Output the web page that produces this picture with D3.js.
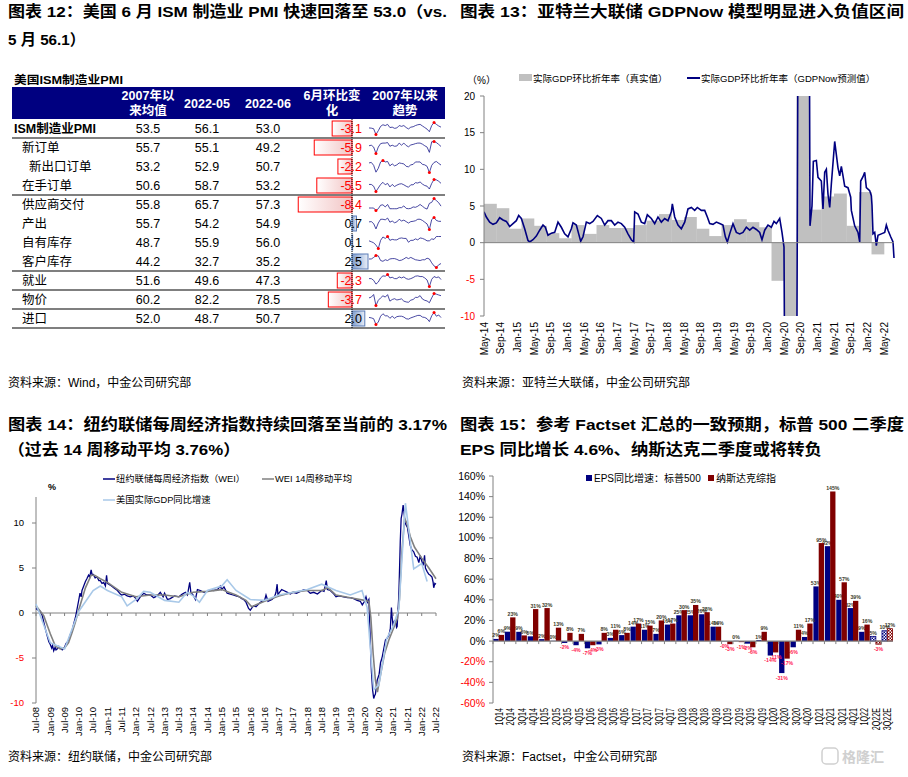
<!DOCTYPE html>
<html><head><meta charset="utf-8">
<script src="https://cdn.jsdelivr.net/npm/d3@7/dist/d3.min.js"></script>
<style>
body{margin:0;background:#fff;}
</style></head><body>
<script>
// ================= DATA =================
// --- Panel 12: ISM table ---
const tableRows = ["ISM制造业PMI","新订单","新出口订单","在手订单","供应商交付","产出","自有库存","客户库存","就业","物价","进口"];
const avg2007 = [53.5,55.7,53.2,50.6,55.8,55.7,48.7,44.2,51.6,60.2,52.0];
const may22 = [56.1,55.1,52.9,58.7,65.7,54.2,55.9,32.7,49.6,82.2,48.7];
const jun22 = [53.0,49.2,50.7,53.2,57.3,54.9,56.0,35.2,47.3,78.5,50.7];
const momChange = [-3.1,-5.9,-2.2,-5.5,-8.4,0.7,0.1,2.5,-2.3,-3.7,2.0];
const tableHeaders = [["2007年以","来均值"],["2022-05"],["2022-06"],["6月环比变","化"],["2007年以来","趋势"]];
// trend sparklines (semi-annual readings 2007H1 .. 2022H1)
const trendPMI = [51,50.5,49,34.5,44,55,59,57,60,52,53,50,51,57,55,57,52,48.5,53,54,57,59,60,56,52,48,41.5,57,64.7,60,56,53];
const trendNewOrders = [52,54,47,22.7,47,60,62,62,64,50,54,50,51,62,54,62,53,48,55,57,60,62,62,58,52,47,27,67,68,64,57,49.2];
const trendExport = [55,56,50,36,44,57,60,57,58,49,53,49,51,55,54,53,48,47,51,52,57,57,57,52,51,48,35.3,50,56,58,54,50.7];
const trendBacklog = [50,50,45,30,40,50,56,49,53,43,50,44,48,51,52,49,45,42,49,49,55,54,57,51,47,45,37,53,64,63,59,53.2];
const trendSupplier = [52,52,52,45,50,60,61,55,62,50,50,50,50,53,53,58,51,50,51,55,54,57,62,57,52,49,65,68,78.8,73,67,57.3];
const trendProduction = [53,54,47,29,49,62,62,60,66,52,56,50,53,62,56,59,54,49,54,55,57,62,62,58,52,46,27,61,68,58,55,54.9];
const trendInventory = [47,45,43,38,31,48,55,52,56,48,50,49,49,52,53,52,52,44,48,48,51,49,53,52,50,47,47,51,50,56,56,56.0];
const trendCustInv = [47,47,51,56,55,43,41,45,43,47,48,48,46,43,44,47,51,48,51,48,45,44,43,45,45,49,47,37,29,25,32,35.2];
const trendEmployment = [50,50,45,34,40,52,58,57,62,52,54,50,50,55,52,55,50,48,50,53,57,58,56,56,52,46,27,48,56,53,55,47.3];
const trendPrices = [65,70,86,18,50,65,78,70,85,45,55,60,52,55,59,45,40,38,51,55,68,68,79,58,50,46,35,65,92.1,88,83,78.5];
const trendImports = [51,50,48,34,40,54,60,55,55,49,54,49,53,54,54,52,48,47,50,52,54,56,56,52,51,48,41,55,63,54,57,50.7];
const trendSeries = [trendPMI,trendNewOrders,trendExport,trendBacklog,trendSupplier,trendProduction,trendInventory,trendCustInv,trendEmployment,trendPrices,trendImports];

// --- Panel 13: GDPNow ---
const gdpQuarters = ["2014Q2","2014Q3","2014Q4","2015Q1","2015Q2","2015Q3","2015Q4","2016Q1","2016Q2","2016Q3","2016Q4","2017Q1","2017Q2","2017Q3","2017Q4","2018Q1","2018Q2","2018Q3","2018Q4","2019Q1","2019Q2","2019Q3","2019Q4","2020Q1","2020Q2","2020Q3","2020Q4","2021Q1","2021Q2","2021Q3","2021Q4","2022Q1"];
const gdpActual = [5.3,4.7,1.9,3.3,2.3,1.3,0.6,2.4,1.2,2.4,2.0,2.0,2.4,3.0,3.9,3.1,3.5,1.9,0.9,2.4,3.2,2.8,2.1,-5.2,-31.2,33.8,4.5,6.3,6.7,2.3,6.9,-1.6];
const gdpNow = [[2014.333,4.2],[2014.38,3.5],[2014.447,2.8],[2014.513,2.5],[2014.58,2.7],[2014.647,3.4],[2014.713,3.1],[2014.78,2.9],[2014.847,2.2],[2014.913,2.6],[2014.98,3.0],[2015.027,3.7],[2015.08,3.3],[2015.147,1.9],[2015.213,0.3],[2015.247,0.1],[2015.313,0.4],[2015.38,0.9],[2015.447,1.7],[2015.513,2.4],[2015.56,2.1],[2015.613,1.0],[2015.68,1.3],[2015.747,1.4],[2015.813,2.8],[2015.88,2.1],[2015.947,1.2],[2016.013,0.8],[2016.08,1.9],[2016.113,2.7],[2016.18,2.4],[2016.227,1.2],[2016.267,0.2],[2016.313,0.8],[2016.38,2.8],[2016.447,2.6],[2016.513,2.9],[2016.6,3.7],[2016.68,3.3],[2016.747,2.4],[2016.813,3.0],[2016.88,3.0],[2016.947,2.4],[2017.013,2.8],[2017.08,2.6],[2017.147,2.1],[2017.213,1.2],[2017.28,0.4],[2017.327,0.1],[2017.347,4.2],[2017.413,3.9],[2017.48,2.8],[2017.547,2.6],[2017.6,3.8],[2017.68,3.3],[2017.747,2.6],[2017.813,3.5],[2017.88,2.8],[2017.947,3.3],[2018.013,3.0],[2018.08,4.2],[2018.1,5.3],[2018.147,3.5],[2018.213,2.4],[2018.28,1.9],[2018.347,2.8],[2018.413,4.6],[2018.48,4.8],[2018.547,4.4],[2018.6,4.8],[2018.68,4.4],[2018.747,4.4],[2018.8,3.5],[2018.847,2.6],[2018.913,2.5],[2018.98,2.8],[2019.047,2.6],[2019.113,2.4],[2019.16,0.8],[2019.2,0.1],[2019.247,1.2],[2019.313,2.6],[2019.38,1.4],[2019.447,1.2],[2019.513,1.4],[2019.58,2.1],[2019.647,1.7],[2019.713,2.1],[2019.78,1.8],[2019.847,1.4],[2019.893,0.4],[2019.947,1.7],[2020.013,2.4],[2020.08,2.1],[2020.133,2.9],[2020.18,2.6],[2020.247,3.3],[2020.293,1.4],[2020.333,-0.6],[2020.36,-35],[2020.5,-38],[2020.59,-15],[2020.613,30],[2020.84,30],[2020.853,2.3],[2020.893,5],[2020.92,11.1],[2020.98,11.2],[2021.013,8.9],[2021.08,8.4],[2021.113,4.6],[2021.147,9.6],[2021.18,10.0],[2021.213,6.6],[2021.247,4.8],[2021.28,8.0],[2021.347,13.8],[2021.413,10.2],[2021.447,9.1],[2021.48,10.4],[2021.513,9.1],[2021.547,7.7],[2021.613,7.5],[2021.667,6.2],[2021.68,4.4],[2021.747,2.3],[2021.813,1.4],[2021.847,0.1],[2021.867,8.4],[2021.913,9.0],[2021.947,9.6],[2021.98,7.5],[2022.047,7.1],[2022.08,6.4],[2022.093,5.1],[2022.113,1.2],[2022.147,1.4],[2022.18,-0.4],[2022.213,1.0],[2022.28,1.2],[2022.347,1.4],[2022.38,2.4],[2022.413,1.7],[2022.467,0.8],[2022.513,0.1],[2022.533,-2.1]];
const gdpYTicks = [-10,-5,0,5,10,15,20];

// --- Panel 14: WEI ---
const weiSeries = [[2008.50,0.5],[2008.58,0.3],[2008.65,0.2],[2008.72,-0.3],[2008.77,-1.0],[2008.83,-1.8],[2008.89,-2.5],[2008.95,-3.2],[2009.00,-3.5],[2009.05,-3.9],[2009.08,-3.6],[2009.12,-4.2],[2009.17,-3.8],[2009.20,-4.1],[2009.24,-4.0],[2009.30,-3.7],[2009.35,-3.9],[2009.42,-4.1],[2009.50,-3.8],[2009.55,-3.4],[2009.60,-3.2],[2009.64,-3.0],[2009.70,-2.4],[2009.76,-2.0],[2009.82,-1.2],[2009.88,-0.5],[2009.94,0.5],[2010.00,1.5],[2010.04,2.2],[2010.08,1.8],[2010.11,2.5],[2010.17,3.0],[2010.23,3.5],[2010.28,3.8],[2010.34,4.2],[2010.38,4.0],[2010.43,4.8],[2010.46,4.3],[2010.50,4.3],[2010.57,3.9],[2010.64,4.0],[2010.70,3.6],[2010.75,3.6],[2010.81,3.3],[2010.87,3.4],[2010.93,3.0],[2010.97,4.2],[2011.00,3.3],[2011.10,3.1],[2011.22,2.8],[2011.35,2.5],[2011.45,2.1],[2011.50,2.0],[2011.60,2.1],[2011.69,1.9],[2011.80,1.8],[2011.90,1.9],[2012.00,1.6],[2012.05,1.3],[2012.15,1.8],[2012.27,2.2],[2012.38,2.0],[2012.50,2.0],[2012.62,1.7],[2012.74,1.9],[2012.85,2.3],[2012.95,1.8],[2013.00,2.2],[2013.10,1.5],[2013.20,1.6],[2013.35,1.9],[2013.50,1.8],[2013.62,2.1],[2013.73,2.3],[2013.80,2.0],[2013.88,3.4],[2013.92,2.3],[2014.00,2.0],[2014.08,1.5],[2014.15,2.6],[2014.25,2.5],[2014.38,2.3],[2014.50,2.4],[2014.60,2.6],[2014.72,2.5],[2014.85,2.6],[2014.95,3.0],[2015.00,2.6],[2015.08,2.9],[2015.19,2.2],[2015.30,2.1],[2015.40,2.0],[2015.50,1.9],[2015.62,1.8],[2015.70,1.6],[2015.77,1.5],[2015.85,1.2],[2015.94,0.5],[2016.00,0.3],[2016.06,0.6],[2016.12,0.8],[2016.20,0.7],[2016.29,1.0],[2016.40,1.3],[2016.50,1.4],[2016.55,2.0],[2016.62,1.3],[2016.76,1.5],[2016.85,1.8],[2016.90,2.3],[2016.94,3.2],[2016.97,1.9],[2017.00,2.2],[2017.10,2.6],[2017.17,2.5],[2017.30,2.3],[2017.40,2.1],[2017.50,2.3],[2017.62,2.2],[2017.75,2.4],[2017.88,2.6],[2018.00,2.5],[2018.10,2.2],[2018.22,2.3],[2018.35,2.1],[2018.50,2.5],[2018.58,2.4],[2018.66,3.6],[2018.70,2.6],[2018.80,2.5],[2018.90,2.2],[2019.00,1.8],[2019.10,1.9],[2019.27,1.8],[2019.40,1.7],[2019.50,1.7],[2019.62,1.6],[2019.74,1.4],[2019.85,1.3],[2019.92,0.9],[2020.00,1.3],[2020.05,1.8],[2020.10,1.2],[2020.15,1.5],[2020.20,-3.0],[2020.24,-6.5],[2020.28,-8.5],[2020.32,-9.5],[2020.35,-9.2],[2020.38,-9.0],[2020.44,-7.5],[2020.51,-6.8],[2020.56,-5.5],[2020.61,-5.0],[2020.67,-4.0],[2020.73,-3.0],[2020.79,-2.8],[2020.85,-2.5],[2020.90,-1.8],[2020.94,0.6],[2020.96,-0.3],[2021.00,-1.5],[2021.04,-0.9],[2021.08,-0.8],[2021.12,-1.6],[2021.14,-1.5],[2021.17,0.3],[2021.20,2.0],[2021.25,8.0],[2021.28,10.5],[2021.31,11.0],[2021.35,12.0],[2021.37,11.5],[2021.42,10.0],[2021.50,9.5],[2021.55,8.5],[2021.60,7.5],[2021.66,7.0],[2021.72,6.8],[2021.78,6.3],[2021.84,6.2],[2021.90,5.6],[2021.95,6.4],[2022.00,5.8],[2022.05,5.3],[2022.10,6.4],[2022.13,5.0],[2022.19,4.6],[2022.25,4.3],[2022.30,4.2],[2022.36,4.0],[2022.40,3.4],[2022.42,2.8],[2022.46,3.3],[2022.50,3.2]];
const weiMA14 = [[2008.50,0.8],[2008.77,-0.3],[2009.00,-2.3],[2009.18,-3.7],[2009.35,-4.0],[2009.50,-3.9],[2009.64,-3.3],[2009.76,-2.2],[2009.88,-1.0],[2010.00,0.4],[2010.23,2.8],[2010.43,4.2],[2010.55,4.2],[2010.75,3.8],[2011.00,3.4],[2011.50,2.3],[2012.00,1.8],[2012.50,2.0],[2013.00,2.0],[2013.50,1.8],[2014.00,2.3],[2014.50,2.4],[2015.00,2.6],[2015.50,2.0],[2015.85,1.4],[2016.05,0.7],[2016.50,1.3],[2017.00,1.9],[2017.50,2.3],[2018.00,2.5],[2018.50,2.5],[2018.72,2.8],[2019.00,2.0],[2019.50,1.7],[2020.00,1.4],[2020.15,1.3],[2020.22,-0.5],[2020.30,-4.5],[2020.38,-7.5],[2020.45,-8.8],[2020.55,-7.0],[2020.70,-4.5],[2020.85,-3.0],[2021.00,-1.8],[2021.15,-0.6],[2021.22,1.5],[2021.30,6.5],[2021.40,10.5],[2021.48,10.0],[2021.60,8.5],[2021.75,7.3],[2022.00,6.1],[2022.25,5.0],[2022.50,3.8]];
const gdpYoY = [[2008.50,1.0],[2009.00,-3.3],[2009.50,-4.0],[2010.00,0.2],[2010.50,2.5],[2010.75,3.0],[2011.00,2.5],[2011.50,1.8],[2011.69,0.8],[2012.00,1.5],[2012.27,2.4],[2012.50,2.3],[2013.00,1.4],[2013.50,1.2],[2013.79,2.3],[2014.00,1.9],[2014.22,1.2],[2014.50,2.5],[2015.00,3.0],[2015.19,3.7],[2015.50,2.5],[2016.00,1.5],[2016.50,1.4],[2017.00,2.0],[2017.50,2.3],[2018.00,2.6],[2018.50,3.2],[2019.00,2.5],[2019.50,2.0],[2019.91,2.5],[2020.09,0.6],[2020.32,-8.5],[2020.50,-8.0],[2020.78,-2.8],[2021.00,-1.5],[2021.20,0.5],[2021.43,12.2],[2021.72,4.9],[2022.00,5.5],[2022.19,3.5]];
const weiYTicks = [-10,-5,0,5,10];

// --- Panel 15: Factset EPS ---
const epsQuarters = ["1Q14","2Q14","3Q14","4Q14","1Q15","2Q15","3Q15","4Q15","1Q16","2Q16","3Q16","4Q16","1Q17","2Q17","3Q17","4Q17","1Q18","2Q18","3Q18","4Q18","1Q19","2Q19","3Q19","4Q19","1Q20","2Q20","3Q20","4Q20","1Q21","2Q21","3Q21","4Q21","1Q22","2Q22E","3Q22E"];
const epsSP500 = [2.1,9.1,9.0,4.6,1.9,0.3,-1.8,-4.0,-7.0,-3.2,3.1,5.8,14.0,11.0,7.0,16.0,25.0,25.0,26.0,14.0,-0.3,0.3,-2.5,1.0,-14.0,-31.0,-6.0,4.0,53.0,92.0,40.0,32.0,9.0,4.6,10.0];
const epsNasdaq = [6.0,23.0,5.5,31.0,32.0,13.0,8.0,7.0,-4.0,8.0,11.0,8.0,17.0,15.0,20.0,17.0,30.0,35.0,28.0,14.0,-3.0,-1.0,-6.0,9.0,-11.0,-17.0,11.0,17.0,95.0,145.0,57.0,39.0,16.0,-3.0,12.0];
const epsYTicks = [-60,-40,-20,0,20,40,60,80,100,120,140,160];

// ================= DRAW =================
const FONT = '"Liberation Sans", Arial, "Noto Sans CJK SC", sans-serif';
const NAVY = "#000080", MAROON = "#800000", GRAY = "#808080";
const svg = d3.select("body").append("svg").attr("width",908).attr("height",777).style("font-family",FONT);
const defs = svg.append("defs");

// titles
const titles = [
 [8,16.5,"图表 12：美国 6 月 ISM 制造业 PMI 快速回落至 53.0（vs.",439],
 [8,45,"5 月 56.1）",77],
 [460,16.5,"图表 13：亚特兰大联储 GDPNow 模型明显进入负值区间",444],
 [8,430,"图表 14：纽约联储每周经济指数持续回落至当前的 3.17%",439],
 [8,455,"（过去 14 周移动平均 3.76%）",232],
 [460,430,"图表 15：参考 Factset 汇总的一致预期，标普 500 二季度",444],
 [460,455,"EPS 同比增长 4.6%、纳斯达克二季度或将转负",362]
];
titles.forEach(([x,y,t,w])=>{
  svg.append("text").attr("x",x).attr("y",y).attr("font-size",15.5).attr("font-weight","bold")
    .attr("fill","#000").attr("textLength",w).attr("lengthAdjust","spacingAndGlyphs").text(t);
});
// sources
[[8,387,"资料来源：Wind，中金公司研究部"],[462,387,"资料来源：亚特兰大联储，中金公司研究部"],
 [8,761,"资料来源：纽约联储，中金公司研究部"],[462,761,"资料来源：Factset，中金公司研究部"]].forEach(([x,y,t])=>{
  svg.append("text").attr("x",x).attr("y",y).attr("font-size",12).attr("fill","#000").text(t);
});

// ---------- Panel 12: table ----------
(function(){
  const top = 119, rh = 19, left = 12, right = 445;
  svg.append("text").attr("x",14).attr("y",84).attr("font-size",11).attr("font-weight","bold")
    .attr("textLength",109).attr("lengthAdjust","spacingAndGlyphs").text("美国ISM制造业PMI");
  svg.append("rect").attr("x",left).attr("y",87).attr("width",right-left).attr("height",32).attr("fill",NAVY);
  const hx = [148,207,268,332,405];
  tableHeaders.forEach((lines,i)=>{
    lines.forEach((ln,j)=>{
      const y = lines.length===1 ? 107.5 : (j===0 ? 99.5 : 114.5);
      svg.append("text").attr("x",hx[i]).attr("y",y).attr("text-anchor","middle").attr("font-size",12.5)
        .attr("font-weight","bold").attr("fill","#fff").text(ln);
    });
  });
  const indent = [14,22,29,22,22,22,22,22,22,22,22];
  const cy = i => top + rh*i + rh/2;
  tableRows.forEach((r,i)=>{
    svg.append("text").attr("x",indent[i]).attr("y",cy(i)+4.5).attr("font-size",12.5)
      .attr("font-weight", i===0?"bold":"normal").text(r);
    [[avg2007,148],[may22,207],[jun22,268]].forEach(([arr,x])=>{
      svg.append("text").attr("x",x).attr("y",cy(i)+4.5).attr("text-anchor","middle").attr("font-size",12.5)
        .text(arr[i].toFixed(1));
    });
  });
  // separator lines
  [1,4,8,9,10,11].forEach(k=>{
    svg.append("line").attr("x1",left).attr("x2",right).attr("y1",top+rh*k).attr("y2",top+rh*k)
      .attr("stroke","#000").attr("stroke-width",1.2);
  });
  // data bars
  const gN = defs.append("linearGradient").attr("id","gNeg").attr("x1","0").attr("x2","1");
  gN.append("stop").attr("offset","0").attr("stop-color","#ffffff");
  gN.append("stop").attr("offset","1").attr("stop-color","#f2c4c4");
  const gP = defs.append("linearGradient").attr("id","gPos").attr("x1","0").attr("x2","1");
  gP.append("stop").attr("offset","0").attr("stop-color","#7e9ccc");
  gP.append("stop").attr("offset","1").attr("stop-color","#e8eef8");
  const xb = d3.scaleLinear().domain([-10,5]).range([352-64,352+32]);
  momChange.forEach((v,i)=>{
    const x0 = Math.min(xb(v),xb(0)), w = Math.abs(xb(v)-xb(0));
    svg.append("rect").attr("x",x0).attr("y",cy(i)-7.5).attr("width",w).attr("height",15)
      .attr("fill", v<0?"url(#gNeg)":"url(#gPos)").attr("stroke", v<0?"#ff0000":"#5a7db8").attr("stroke-width",1);
  });
  svg.append("line").attr("x1",352).attr("x2",352).attr("y1",top).attr("y2",top+rh*11)
    .attr("stroke","#000").attr("stroke-dasharray","1,1");
  momChange.forEach((v,i)=>{
    svg.append("text").attr("x",362).attr("y",cy(i)+4.5).attr("text-anchor","end").attr("font-size",12.5)
      .attr("fill", v<0?"#ff0000":"#000").text(v.toFixed(1));
  });
  // sparklines
  trendSeries.forEach((s,i)=>{
    const sx = d3.scaleLinear().domain([0,s.length-1]).range([369,441]);
    const sy = d3.scaleLinear().domain(d3.extent(s)).range([cy(i)+6,cy(i)-6]);
    svg.append("path").attr("d",d3.line().x((d,k)=>sx(k)).y(d=>sy(d))(s))
      .attr("fill","none").attr("stroke","#1c1c8c").attr("stroke-width",0.8);
    const iMax = d3.maxIndex(s), iMin = d3.minIndex(s);
    [iMax,iMin].forEach(k=>svg.append("circle").attr("cx",sx(k)).attr("cy",sy(s[k])).attr("r",1.5).attr("fill","#ff0000"));
  });
})();

// ---------- Panel 13: GDPNow ----------
(function(){
  const x = d3.scaleLinear().domain([2014+4/12, 2022.533]).range([484,894]);
  const y = d3.scaleLinear().domain([-10,20]).range([316,96]);
  defs.append("clipPath").attr("id","clip13").append("rect").attr("x",484).attr("y",96).attr("width",412).attr("height",220);
  const g = svg.append("g");
  const pg = g.append("g").attr("clip-path","url(#clip13)");
  gdpQuarters.forEach((q,i)=>{
    const yr = +q.slice(0,4), qn = +q.slice(5);
    const s = yr + (qn-1)/4 + 1/12, e = s + 0.25;
    const v = gdpActual[i];
    pg.append("rect").attr("x",x(s)).attr("width",x(e)-x(s)+0.3)
      .attr("y",y(Math.max(0,v))).attr("height",Math.abs(y(v)-y(0))).attr("fill","#c0c0c0");
  });
  g.append("line").attr("x1",484).attr("x2",894).attr("y1",y(0)).attr("y2",y(0)).attr("stroke",GRAY);
  pg.append("path").attr("d",d3.line().x(d=>x(d[0])).y(d=>y(d[1]))(gdpNow))
    .attr("fill","none").attr("stroke",NAVY).attr("stroke-width",1.6);
  // y axis
  g.append("line").attr("x1",484).attr("x2",484).attr("y1",96).attr("y2",316).attr("stroke",GRAY);
  gdpYTicks.forEach(t=>{
    g.append("line").attr("x1",480).attr("x2",484).attr("y1",y(t)).attr("y2",y(t)).attr("stroke",GRAY);
    g.append("text").attr("x",475).attr("y",y(t)+3.5).attr("text-anchor","end").attr("font-size",10)
      .attr("fill", t<0?"#ff0000":"#000").text(t);
  });
  // x labels
  const mn = ["Jan","Feb","Mar","Apr","May","Jun","Jul","Aug","Sep","Oct","Nov","Dec"];
  d3.range(0,25).forEach(k=>{
    const mi = 4 + 4*k, yr = 2014 + Math.floor(mi/12), m = mi%12;
    const t = 2014 + mi/12;
    g.append("text").attr("transform",`translate(${x(t)+3.5},322) rotate(-90)`).attr("text-anchor","end")
      .attr("font-size",10).text(mn[m]+"-"+String(yr%100).padStart(2,"0"));
  });
  g.append("text").attr("x",467).attr("y",84).attr("font-size",10).text("（%）");
  // legend
  g.append("rect").attr("x",519).attr("y",74).attr("width",13).attr("height",7).attr("fill","#c0c0c0");
  g.append("text").attr("x",533).attr("y",82).attr("font-size",9.5).text("实际GDP环比折年率（真实值）");
  g.append("line").attr("x1",687).attr("x2",700).attr("y1",78).attr("y2",78).attr("stroke",NAVY).attr("stroke-width",2);
  g.append("text").attr("x",701).attr("y",82).attr("font-size",9.5).text("实际GDP环比折年率（GDPNow预测值）");
})();

// ---------- Panel 14: WEI ----------
(function(){
  const x = d3.scaleLinear().domain([2008.5,2022.5]).range([36,436]);
  const y = d3.scaleLinear().domain([-10,10]).range([703,523]);
  const g = svg.append("g");
  g.append("line").attr("x1",36).attr("x2",36).attr("y1",497).attr("y2",703).attr("stroke",GRAY);
  weiYTicks.forEach(t=>{
    g.append("line").attr("x1",32).attr("x2",36).attr("y1",y(t)).attr("y2",y(t)).attr("stroke",GRAY);
    g.append("text").attr("x",24).attr("y",y(t)+3.3).attr("text-anchor","end").attr("font-size",9.5)
      .attr("fill", t<0?"#ff0000":"#000").text(t);
  });
  g.append("line").attr("x1",36).attr("x2",436).attr("y1",y(0)).attr("y2",y(0)).attr("stroke",GRAY);
  const mn = ["Jan","Feb","Mar","Apr","May","Jun","Jul","Aug","Sep","Oct","Nov","Dec"];
  d3.range(0,29).forEach(k=>{
    const mi = 6 + 6*k, yr = 2008 + Math.floor(mi/12), m = mi%12, t = 2008 + mi/12;
    g.append("line").attr("x1",x(t)).attr("x2",x(t)).attr("y1",y(0)).attr("y2",y(0)+3).attr("stroke",GRAY);
    g.append("text").attr("transform",`translate(${x(t)+3.3},707) rotate(-90)`).attr("text-anchor","end")
      .attr("font-size",9.5).text(mn[m]+"-"+String(yr%100).padStart(2,"0"));
  });
  const ln = d3.line().x(d=>x(d[0])).y(d=>y(d[1]));
  g.append("path").attr("d",ln(weiSeries)).attr("fill","none").attr("stroke",NAVY).attr("stroke-width",1.3);
  g.append("path").attr("d",ln(weiMA14)).attr("fill","none").attr("stroke",GRAY).attr("stroke-width",1.6);
  g.append("path").attr("d",ln(gdpYoY)).attr("fill","none").attr("stroke","#a8c8e8").attr("stroke-width",1.6);
  g.append("text").attr("x",48).attr("y",490).attr("font-size",9).attr("font-weight","bold").text("%");
  // legend
  const L = [[103,482,NAVY,"纽约联储每周经济指数（WEI）"],[262,482,GRAY,"WEI 14周移动平均"],[103,503,"#a8c8e8","美国实际GDP同比增速"]];
  L.forEach(([lx,ly,c,t])=>{
    g.append("line").attr("x1",lx).attr("x2",lx+12).attr("y1",ly-3).attr("y2",ly-3).attr("stroke",c).attr("stroke-width",1.5);
    g.append("text").attr("x",lx+13).attr("y",ly).attr("font-size",9.3).text(t);
  });
})();

// ---------- Panel 15: Factset ----------
(function(){
  const x = d3.scaleBand().domain(epsQuarters).range([493,893]);
  const y = d3.scaleLinear().domain([-60,160]).range([703,476]);
  const g = svg.append("g");
  function checker(id,color){
    const p = defs.append("pattern").attr("id",id).attr("width",3).attr("height",3).attr("patternUnits","userSpaceOnUse");
    p.append("rect").attr("width",3).attr("height",3).attr("fill","#fff");
    p.append("rect").attr("width",1.5).attr("height",1.5).attr("fill",color);
    p.append("rect").attr("x",1.5).attr("y",1.5).attr("width",1.5).attr("height",1.5).attr("fill",color);
  }
  checker("hatchB",NAVY); checker("hatchR",MAROON);
  g.append("line").attr("x1",493).attr("x2",493).attr("y1",476).attr("y2",703).attr("stroke",GRAY);
  epsYTicks.forEach(t=>{
    g.append("line").attr("x1",489).attr("x2",493).attr("y1",y(t)).attr("y2",y(t)).attr("stroke",GRAY);
    g.append("text").attr("x",485).attr("y",y(t)+3.5).attr("text-anchor","end").attr("font-size",10.5)
      .attr("fill", t<0?"#ff0000":"#000").text(t+"%");
  });
  const bw = x.bandwidth()*0.465;
  const series = [[epsSP500,NAVY,"hatchB",0.035],[epsNasdaq,MAROON,"hatchR",0.5]];
  series.forEach(([arr,c,hat,off])=>{
    arr.forEach((v,i)=>{
      const q = epsQuarters[i], est = q.endsWith("E");
      const bx = x(q) + x.bandwidth()*off;
      g.append("rect").attr("x",bx).attr("width",bw).attr("y",y(Math.max(0,v))).attr("height",Math.abs(y(v)-y(0)))
        .attr("fill", est?`url(#${hat})`:c).attr("stroke", est?c:"none").attr("stroke-width",0.8);
      const lbl = (v<0 && Math.round(v)===0) ? "-0%" : Math.round(v) + "%";
      const ly = v>=0 ? y(v)-1.5 : y(v)+6.5;
      g.append("text").attr("x",bx+bw/2).attr("y",ly).attr("text-anchor","middle").attr("font-size",5.2)
        .attr("font-weight","bold").attr("fill", v<0?"#ff2050":"#3a3a2a").text(lbl);
    });
  });
  g.append("line").attr("x1",493).attr("x2",893).attr("y1",y(0)).attr("y2",y(0)).attr("stroke",GRAY).attr("stroke-width",1.2);
  epsQuarters.forEach((q,i)=>{
    const bx = x(q);
    g.append("line").attr("x1",bx).attr("x2",bx).attr("y1",y(0)).attr("y2",y(0)+3).attr("stroke",GRAY);
    g.append("text").attr("transform",`translate(${bx+x.bandwidth()/2+4},708) rotate(-90) scale(0.62,1)`)
      .attr("text-anchor","end").attr("font-size",11.5).text(q);
  });
  // legend
  g.append("rect").attr("x",586).attr("y",475).attr("width",6).attr("height",6).attr("fill",NAVY);
  g.append("text").attr("x",594).attr("y",482).attr("font-size",10).text("EPS同比增速：标普500");
  g.append("rect").attr("x",708).attr("y",475).attr("width",6).attr("height",6).attr("fill",MAROON);
  g.append("text").attr("x",716).attr("y",482).attr("font-size",10).text("纳斯达克综指");
})();

// watermark
svg.append("rect").attr("x",822).attr("y",748).attr("width",16).attr("height",16).attr("rx",4)
  .attr("fill","none").attr("stroke","#d0d0d0").attr("stroke-width",1.5);
svg.append("text").attr("x",842).attr("y",762).attr("font-size",14).attr("fill","#d0d0d0").attr("font-weight","bold").text("格隆汇");
</script>
</body></html>
